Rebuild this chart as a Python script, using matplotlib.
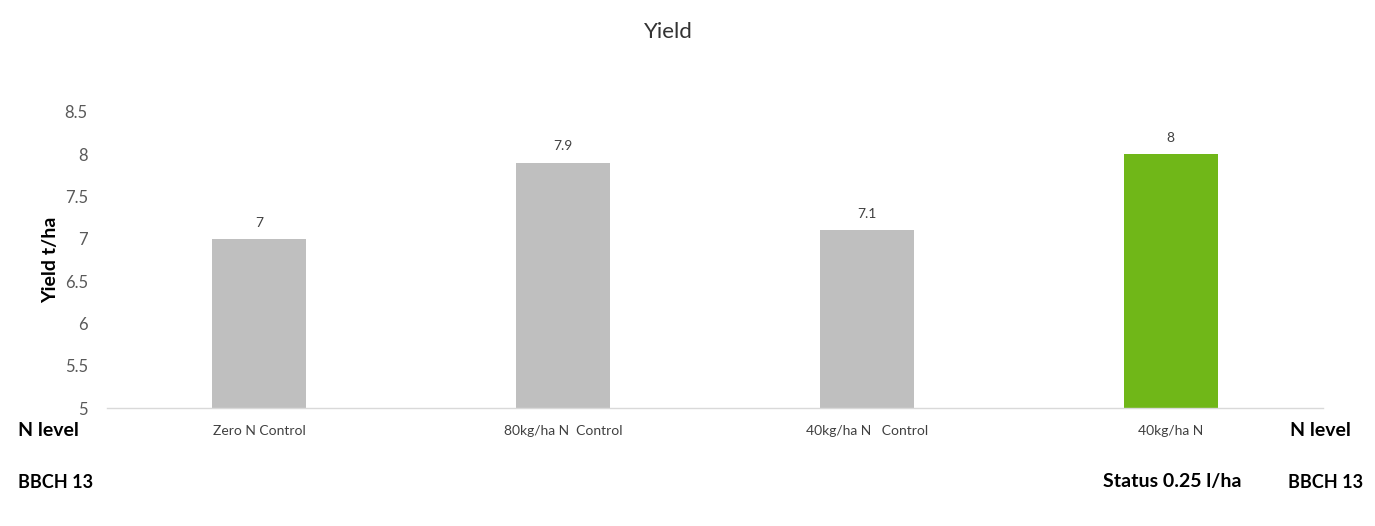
import matplotlib.pyplot as plt

categories = ['Zero N Control', '80kg/ha N  Control', '40kg/ha N   Control', '40kg/ha N']
yield_values = [7, 7.9, 7.1, 8]
bar_colors = ['#BFBFBF', '#BFBFBF', '#BFBFBF', '#70B718']
y_ticks = [5, 5.5, 6, 6.5, 7, 7.5, 8, 8.5]

plt.rcParams['font.family'] = ['Lato', 'DejaVu Sans']

fig = plt.figure(figsize=(13.75, 5.26), dpi=100)
ax = fig.add_axes([0.078, 0.2243, 0.884, 0.563])

x = range(len(categories))
ax.bar(x, [v - 5 for v in yield_values], bottom=5, width=0.31, color=bar_colors)

for xi, v in zip(x, yield_values):
    ax.text(xi, v + 0.12, f'{v:g}', ha='center', va='bottom', fontsize=10, color='#404040')

ax.set_xlim(-0.5, 3.5)
ax.set_ylim(5, 8.5)
ax.set_yticks(y_ticks)
ax.set_yticklabels([f'{t:g}' for t in y_ticks], fontsize=12, color='#595959')
ax.set_xticks(list(x))
ax.set_xticklabels(categories, fontsize=10, color='#404040')
ax.tick_params(axis='both', length=0)
ax.tick_params(axis='x', pad=12)
ax.tick_params(axis='y', pad=14)

for side in ['top', 'right', 'left']:
    ax.spines[side].set_visible(False)
ax.spines['bottom'].set_color('#D9D9D9')
ax.spines['bottom'].set_linewidth(1)

ax.set_ylabel('Yield t/ha', fontsize=14, fontweight='bold', color='black', labelpad=4)

fig.text(0.486, 0.94, 'Yield', ha='center', va='center', fontsize=16, color='#333333')

# row labels below the axis
fig.text(18 / 1375, 1 - 431 / 526, 'N level', ha='left', va='center', fontsize=14, fontweight='bold')
fig.text(18 / 1375, 1 - 482 / 526, 'BBCH 13', ha='left', va='center', fontsize=13, fontweight='bold')
fig.text(1290 / 1375, 1 - 431 / 526, 'N level', ha='left', va='center', fontsize=14, fontweight='bold')
fig.text(1103 / 1375, 1 - 482 / 526, 'Status 0.25 l/ha', ha='left', va='center', fontsize=14, fontweight='bold')
fig.text(1288 / 1375, 1 - 482 / 526, 'BBCH 13', ha='left', va='center', fontsize=13, fontweight='bold')

plt.savefig('out.png', dpi=100)
